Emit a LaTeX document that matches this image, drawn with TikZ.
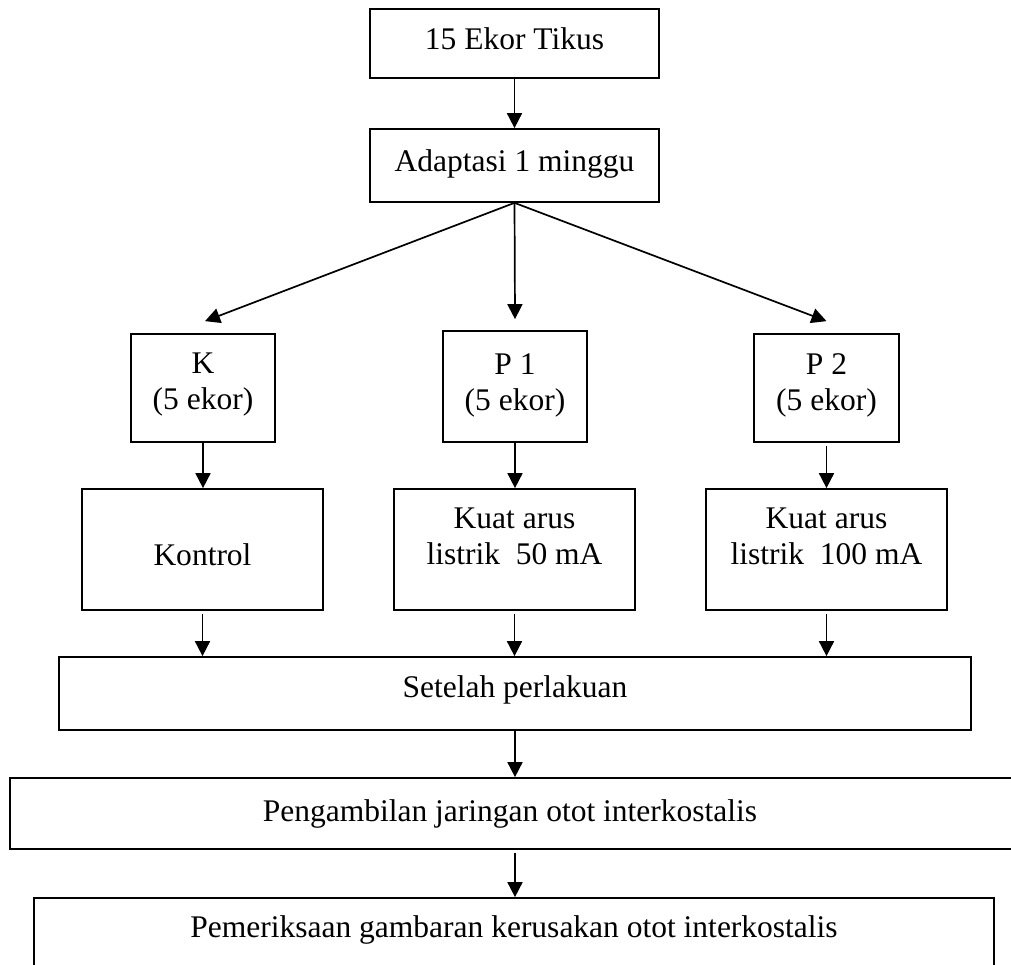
\documentclass[tikz,border=0pt]{standalone}
\usepackage{fontspec}
\setmainfont{Liberation Serif}
\usetikzlibrary{arrows.meta,calc}
\begin{document}
\begin{tikzpicture}[x=1pt,y=-1pt,
  box/.style={draw, line width=1.7pt, inner sep=0pt},
  lbl/.style={font=\fontsize{31.5}{36}\selectfont, align=center, inner sep=0pt},
  arr/.style={line width=1.7pt, -{Triangle[length=15pt,width=15pt]}}]
\useasboundingbox (0,0) rectangle (1011,965);
\node[box, minimum width=289pt, minimum height=69pt,
  label={[lbl,yshift=5pt]center:15 Ekor Tikus}] (tikus) at (514.5,43.5) {};
\node[box, minimum width=289pt, minimum height=73pt,
  label={[lbl,yshift=2pt]center:Adaptasi 1 minggu}] (adapt) at (514.5,165.5) {};
\node[box, minimum width=144pt, minimum height=108pt,
  label={[lbl,yshift=3pt]center:{K\\(5 ekor)}}] (k) at (203,388) {};
\node[box, minimum width=144pt, minimum height=111pt,
  label={[lbl,yshift=1.5pt]center:{P 1\\(5 ekor)}}] (p1) at (515,386.5) {};
\node[box, minimum width=145pt, minimum height=108pt,
  label={[lbl,yshift=3pt]center:{P 2\\(5 ekor)}}] (p2) at (826.5,388) {};
\node[box, minimum width=241pt, minimum height=121pt,
  label={[lbl,yshift=-5pt]center:Kontrol}] (kontrol) at (202.5,549.5) {};
\node[box, minimum width=241pt, minimum height=121pt,
  label={[lbl,yshift=13pt]center:{Kuat arus\\listrik~~50 mA}}] (kuat1) at (514.5,549.5) {};
\node[box, minimum width=241pt, minimum height=121pt,
  label={[lbl,yshift=13pt]center:{Kuat arus\\listrik~~100 mA}}] (kuat2) at (826.5,549.5) {};
\node[box, minimum width=912pt, minimum height=73pt,
  label={[lbl,yshift=4pt]center:Setelah perlakuan}] (setelah) at (515,693.5) {};
\node[box, minimum width=1010pt, minimum height=71pt,
  label={[lbl,xshift=-5pt]center:Pengambilan jaringan otot interkostalis}] (ambil) at (515,813.5) {};
\node[box, minimum width=960pt, minimum height=71pt,
  label={[lbl,yshift=3.5pt]center:Pemeriksaan gambaran kerusakan otot interkostalis}] (periksa) at (514,933.5) {};
\draw[arr] (tikus.south) -- (adapt.north);
\draw[arr] (adapt.south) -- ([xshift=2pt,yshift=12pt]k.north);
\draw[arr] (adapt.south) -- ([yshift=11pt]p1.north);
\draw[arr] (adapt.south) -- ([yshift=12pt]p2.north);
\draw[arr] (k.south) -- (k.south |- kontrol.north);
\draw[arr] (p1.south) -- (p1.south |- kuat1.north);
\draw[arr] ([yshift=-3pt]p2.south) -- (p2.south |- kuat2.north);
\draw[arr] ([yshift=-3pt]kontrol.south) -- (kontrol.south |- setelah.north);
\draw[arr] ([yshift=-3pt]kuat1.south) -- (kuat1.south |- setelah.north);
\draw[arr] ([yshift=-3pt]kuat2.south) -- (kuat2.south |- setelah.north);
\draw[arr] (setelah.south) -- (setelah.south |- ambil.north);
\draw[arr] ([yshift=-3pt]ambil.south) -- (ambil.south |- periksa.north);
\end{tikzpicture}
\end{document}
